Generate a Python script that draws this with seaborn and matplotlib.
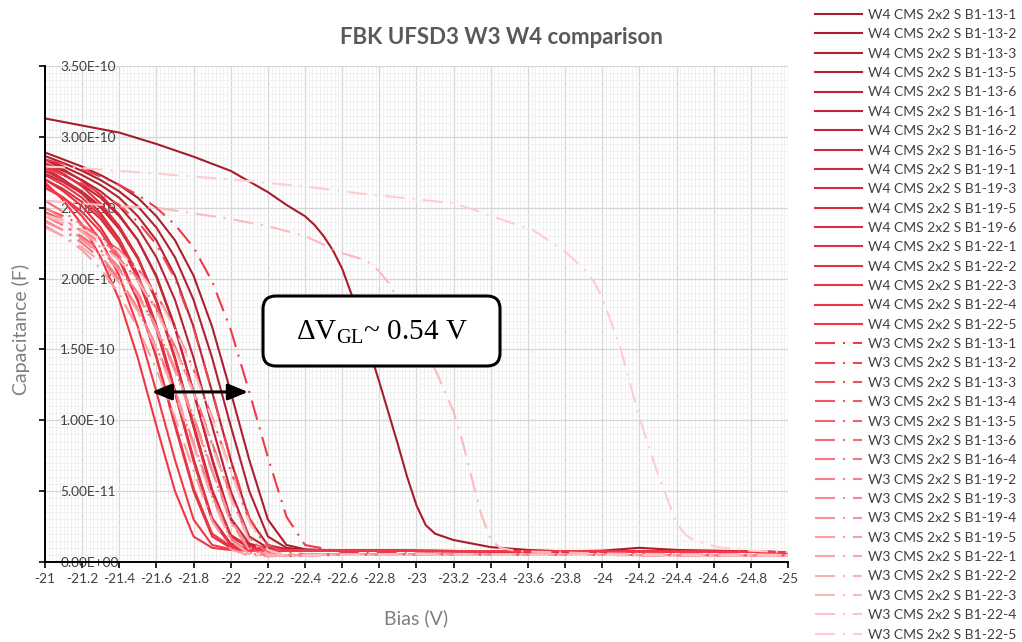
import numpy as np
import pandas as pd
import matplotlib
matplotlib.use("Agg")
import matplotlib.pyplot as plt
import seaborn as sns
from matplotlib.ticker import FixedLocator, AutoMinorLocator, FuncFormatter
from matplotlib.lines import Line2D
from matplotlib.patches import FancyBboxPatch

# ---------------- data (capacitance in units of 1e-10 F, bias in V) ----------------
CAP_UNIT = 1e-10

GRID_BIAS = [-21.0, -21.1, -21.2, -21.3, -21.4, -21.5, -21.6, -21.7, -21.8, -21.9,
             -22.0, -22.1, -22.2, -22.3, -22.4, -22.6, -23.0, -24.0, -25.0]

W4_DEVICES = ['B1-13-1', 'B1-13-2', 'B1-13-3', 'B1-13-5', 'B1-13-6', 'B1-16-1', 'B1-16-2',
              'B1-16-5', 'B1-19-1', 'B1-19-3', 'B1-19-5', 'B1-19-6', 'B1-22-1', 'B1-22-2',
              'B1-22-3', 'B1-22-4', 'B1-22-5']
W3_DEVICES = ['B1-13-1', 'B1-13-2', 'B1-13-3', 'B1-13-4', 'B1-13-5', 'B1-13-6', 'B1-16-4',
              'B1-19-2', 'B1-19-3', 'B1-19-4', 'B1-19-5', 'B1-22-1', 'B1-22-2', 'B1-22-3',
              'B1-22-4', 'B1-22-5']

# W4 outlier (own bias points)
W4_13_1_BIAS = [-21.0, -21.2, -21.4, -21.6, -21.8, -22.0, -22.2, -22.3, -22.4, -22.45, -22.5,
                -22.55, -22.6, -22.65, -22.7, -22.8, -22.9, -22.95, -23.0, -23.05, -23.1, -23.2,
                -23.4, -23.6, -23.8, -24.0, -24.2, -24.4, -24.6, -24.8, -25.0]
W4_13_1_CAP = [3.13, 3.08, 3.03, 2.95, 2.86, 2.76, 2.61, 2.52, 2.44, 2.38, 2.30,
               2.20, 2.07, 1.89, 1.69, 1.27, 0.83, 0.60, 0.40, 0.26, 0.20, 0.155,
               0.105, 0.085, 0.075, 0.08, 0.10, 0.085, 0.08, 0.075, 0.07]

# W4 curves on GRID_BIAS
W4_13_2 = [2.89, 2.84, 2.79, 2.73, 2.66, 2.57, 2.44, 2.27, 2.02, 1.66, 1.20, 0.72, 0.30, 0.12, 0.09, 0.08, 0.078, 0.075, 0.07]
W4_13_3 = [2.865, 2.815, 2.76, 2.695, 2.615, 2.51, 2.36, 2.15, 1.85, 1.44, 0.96, 0.50, 0.18, 0.10, 0.085, 0.08, 0.078, 0.075, 0.07]
W4_13_5 = [2.84, 2.79, 2.73, 2.66, 2.57, 2.44, 2.27, 2.02, 1.66, 1.20, 0.72, 0.30, 0.12, 0.09, 0.08, 0.08, 0.078, 0.075, 0.07]
W4_13_6 = [2.815, 2.76, 2.695, 2.615, 2.51, 2.36, 2.15, 1.85, 1.44, 0.96, 0.50, 0.18, 0.10, 0.085, 0.08, 0.08, 0.078, 0.075, 0.07]
W4_16_1 = [2.79, 2.73, 2.66, 2.57, 2.44, 2.27, 2.02, 1.66, 1.20, 0.72, 0.30, 0.12, 0.09, 0.08, 0.08, 0.08, 0.078, 0.075, 0.07]
W4_16_2 = [2.84, 2.77, 2.69, 2.59, 2.45, 2.27, 2.01, 1.65, 1.20, 0.73, 0.31, 0.13, 0.095, 0.085, 0.08, 0.08, 0.078, 0.075, 0.07]
W4_16_5 = [2.74, 2.68, 2.60, 2.50, 2.35, 2.14, 1.84, 1.44, 0.97, 0.51, 0.19, 0.10, 0.085, 0.08, 0.08, 0.08, 0.078, 0.075, 0.07]
W4_19_1 = [2.76, 2.695, 2.615, 2.51, 2.36, 2.15, 1.85, 1.44, 0.96, 0.50, 0.18, 0.10, 0.085, 0.08, 0.08, 0.08, 0.078, 0.075, 0.07]
W4_19_3 = [2.78, 2.70, 2.60, 2.46, 2.28, 2.03, 1.67, 1.21, 0.73, 0.31, 0.13, 0.095, 0.085, 0.08, 0.08, 0.08, 0.078, 0.075, 0.07]
W4_19_5 = [2.70, 2.63, 2.54, 2.42, 2.25, 2.00, 1.64, 1.19, 0.71, 0.29, 0.12, 0.09, 0.08, 0.08, 0.08, 0.08, 0.078, 0.075, 0.07]
W4_19_6 = [2.81, 2.74, 2.65, 2.53, 2.37, 2.15, 1.84, 1.43, 0.95, 0.49, 0.19, 0.11, 0.09, 0.085, 0.08, 0.08, 0.078, 0.075, 0.07]
W4_22_1 = [2.70, 2.615, 2.51, 2.36, 2.15, 1.85, 1.44, 0.96, 0.50, 0.18, 0.10, 0.085, 0.08, 0.08, 0.08, 0.08, 0.078, 0.075, 0.07]
W4_22_2 = [2.73, 2.66, 2.57, 2.44, 2.27, 2.02, 1.66, 1.20, 0.72, 0.30, 0.12, 0.09, 0.08, 0.08, 0.08, 0.08, 0.078, 0.075, 0.07]
W4_22_3 = [2.64, 2.57, 2.47, 2.33, 2.13, 1.84, 1.45, 0.98, 0.52, 0.20, 0.11, 0.09, 0.085, 0.08, 0.08, 0.08, 0.078, 0.075, 0.07]
W4_22_4 = [2.68, 2.55, 2.38, 2.15, 1.85, 1.44, 0.96, 0.50, 0.18, 0.10, 0.085, 0.08, 0.08, 0.08, 0.08, 0.08, 0.078, 0.075, 0.07]
W4_22_5 = [2.66, 2.57, 2.44, 2.27, 2.02, 1.66, 1.20, 0.72, 0.30, 0.12, 0.09, 0.08, 0.08, 0.08, 0.08, 0.08, 0.078, 0.075, 0.07]

# W3 curves on GRID_BIAS
W3_13_1 = [2.84, 2.81, 2.77, 2.72, 2.66, 2.59, 2.50, 2.38, 2.22, 1.98, 1.64, 1.20, 0.74, 0.32, 0.12, 0.07, 0.06, 0.055, 0.05]
W3_13_2 = [2.78, 2.73, 2.67, 2.60, 2.52, 2.40, 2.24, 2.00, 1.65, 1.20, 0.73, 0.31, 0.12, 0.07, 0.055, 0.055, 0.055, 0.05, 0.05]
W3_13_3 = [2.495, 2.44, 2.375, 2.295, 2.20, 2.07, 1.89, 1.65, 1.36, 1.02, 0.645, 0.29, 0.09, 0.045, 0.045, 0.05, 0.055, 0.05, 0.045]
W3_13_4 = [2.47, 2.41, 2.34, 2.25, 2.14, 1.99, 1.78, 1.51, 1.20, 0.83, 0.46, 0.16, 0.06, 0.04, 0.05, 0.055, 0.055, 0.05, 0.045]
W3_13_5 = [2.44, 2.375, 2.295, 2.20, 2.07, 1.89, 1.65, 1.36, 1.02, 0.645, 0.29, 0.09, 0.045, 0.045, 0.05, 0.055, 0.055, 0.05, 0.045]
W3_13_6 = [2.55, 2.47, 2.38, 2.28, 2.16, 2.00, 1.79, 1.52, 1.21, 0.84, 0.47, 0.17, 0.065, 0.045, 0.05, 0.055, 0.055, 0.05, 0.045]
W3_16_4 = [2.41, 2.34, 2.25, 2.14, 1.99, 1.78, 1.51, 1.20, 0.83, 0.46, 0.16, 0.06, 0.04, 0.05, 0.055, 0.055, 0.055, 0.05, 0.045]
W3_19_2 = [2.46, 2.38, 2.28, 2.16, 2.00, 1.79, 1.52, 1.21, 0.84, 0.47, 0.17, 0.065, 0.045, 0.05, 0.055, 0.055, 0.055, 0.05, 0.045]
W3_19_3 = [2.50, 2.42, 2.33, 2.22, 2.08, 1.90, 1.66, 1.37, 1.03, 0.65, 0.30, 0.10, 0.05, 0.045, 0.05, 0.055, 0.055, 0.05, 0.045]
W3_19_4 = [2.40, 2.34, 2.27, 2.18, 2.06, 1.88, 1.64, 1.35, 1.01, 0.64, 0.28, 0.085, 0.045, 0.045, 0.05, 0.055, 0.055, 0.05, 0.045]
W3_19_5 = [2.375, 2.295, 2.20, 2.07, 1.89, 1.65, 1.36, 1.02, 0.645, 0.29, 0.09, 0.045, 0.045, 0.05, 0.055, 0.055, 0.055, 0.05, 0.045]
W3_22_1 = [2.36, 2.30, 2.22, 2.12, 1.97, 1.77, 1.50, 1.19, 0.82, 0.45, 0.15, 0.055, 0.04, 0.045, 0.05, 0.055, 0.055, 0.05, 0.045]
W3_22_2 = [2.44, 2.39, 2.33, 2.24, 2.13, 1.98, 1.77, 1.50, 1.19, 0.82, 0.45, 0.15, 0.055, 0.04, 0.045, 0.05, 0.055, 0.05, 0.045]
W3_22_4 = [2.45, 2.41, 2.35, 2.28, 2.19, 2.06, 1.88, 1.64, 1.35, 1.01, 0.64, 0.28, 0.085, 0.045, 0.045, 0.05, 0.055, 0.05, 0.045]

# W3 outliers (own bias points)
W3_22_3_BIAS = [-21.0, -21.2, -21.4, -21.6, -21.8, -22.0, -22.2, -22.4, -22.6, -22.7, -22.75,
                -22.8, -22.85, -22.9, -23.0, -23.1, -23.2, -23.25, -23.3, -23.35, -23.4,
                -23.45, -23.55, -24.0, -24.5, -25.0]
W3_22_3_CAP = [2.55, 2.53, 2.51, 2.50, 2.46, 2.42, 2.37, 2.30, 2.18, 2.14, 2.11,
               2.05, 1.97, 1.85, 1.62, 1.36, 1.06, 0.84, 0.58, 0.33, 0.16,
               0.10, 0.075, 0.06, 0.055, 0.05]
W3_22_5_BIAS = [-21.0, -21.2, -21.4, -21.7, -22.0, -22.4, -22.7, -23.0, -23.2, -23.3, -23.45,
                -23.63, -23.8, -23.9, -23.95, -24.0, -24.1, -24.2, -24.3, -24.4, -24.45,
                -24.5, -24.62, -24.8, -25.0]
W3_22_5_CAP = [2.79, 2.78, 2.76, 2.73, 2.70, 2.65, 2.60, 2.56, 2.53, 2.49, 2.42,
               2.34, 2.19, 2.07, 1.99, 1.87, 1.50, 1.02, 0.62, 0.275, 0.19,
               0.15, 0.105, 0.08, 0.07]

W4_CURVES = [
    (W4_13_1_BIAS, W4_13_1_CAP), (GRID_BIAS, W4_13_2), (GRID_BIAS, W4_13_3), (GRID_BIAS, W4_13_5),
    (GRID_BIAS, W4_13_6), (GRID_BIAS, W4_16_1), (GRID_BIAS, W4_16_2), (GRID_BIAS, W4_16_5),
    (GRID_BIAS, W4_19_1), (GRID_BIAS, W4_19_3), (GRID_BIAS, W4_19_5), (GRID_BIAS, W4_19_6),
    (GRID_BIAS, W4_22_1), (GRID_BIAS, W4_22_2), (GRID_BIAS, W4_22_3), (GRID_BIAS, W4_22_4),
    (GRID_BIAS, W4_22_5)]
W3_CURVES = [
    (GRID_BIAS, W3_13_1), (GRID_BIAS, W3_13_2), (GRID_BIAS, W3_13_3), (GRID_BIAS, W3_13_4),
    (GRID_BIAS, W3_13_5), (GRID_BIAS, W3_13_6), (GRID_BIAS, W3_16_4), (GRID_BIAS, W3_19_2),
    (GRID_BIAS, W3_19_3), (GRID_BIAS, W3_19_4), (GRID_BIAS, W3_19_5), (GRID_BIAS, W3_22_1),
    (GRID_BIAS, W3_22_2), (W3_22_3_BIAS, W3_22_3_CAP), (GRID_BIAS, W3_22_4),
    (W3_22_5_BIAS, W3_22_5_CAP)]

X_TICKS = [-21.0, -21.2, -21.4, -21.6, -21.8, -22.0, -22.2, -22.4, -22.6, -22.8, -23.0,
           -23.2, -23.4, -23.6, -23.8, -24.0, -24.2, -24.4, -24.6, -24.8, -25.0]
Y_TICKS = [0.0, 0.5, 1.0, 1.5, 2.0, 2.5, 3.0, 3.5]

TITLE = "FBK UFSD3 W3 W4 comparison"
ANNOT = r"$\Delta\mathrm{V}_{\mathrm{GL}}$~ 0.54 V"
ARROW_LEFT, ARROW_RIGHT, ARROW_CAP = -21.575, -22.093, 1.2

# ---------------- build long table ----------------
rows = []
labels = []
for wafer, devs, curves in (("W4", W4_DEVICES, W4_CURVES), ("W3", W3_DEVICES, W3_CURVES)):
    for dev, (b, c) in zip(devs, curves):
        lab = f"{wafer} CMS 2x2 S {dev}"
        labels.append(lab)
        for bi, ci in zip(b, c):
            rows.append({"label": lab, "wafer": wafer, "bias": bi, "cap": ci * CAP_UNIT})
df = pd.DataFrame(rows)

w4_cols = sns.blend_palette(["#a61d2b", "#f43848"], len(W4_DEVICES))
w3_cols = sns.blend_palette(["#f03a4a", "#ffcdd0"], len(W3_DEVICES))
colors = list(w4_cols) + list(w3_cols)
palette = dict(zip(labels, colors))
DASH = (9.6, 3.8, 1.0, 3.8)

plt.rcParams['font.family'] = ['Lato', 'DejaVu Sans']
plt.rcParams['mathtext.fontset'] = 'custom'
plt.rcParams['mathtext.rm'] = 'Liberation Serif'
plt.rcParams['mathtext.it'] = 'Liberation Serif:italic'
plt.rcParams['mathtext.bf'] = 'Liberation Serif:bold'

fig = plt.figure(figsize=(10.22, 6.42), dpi=100)
ax = fig.add_axes([0.044, 0.1246, 0.727, 0.7726])

sns.lineplot(data=df, x="bias", y="cap", hue="label", hue_order=labels, palette=palette,
             style="wafer", style_order=["W4", "W3"], dashes={"W4": "", "W3": DASH},
             estimator=None, sort=False, linewidth=1.5, legend=False, ax=ax)

ax.set_xlim(-21, -25)
ax.set_ylim(0, 3.5e-10)
ax.xaxis.set_major_locator(FixedLocator(X_TICKS))
ax.xaxis.set_minor_locator(AutoMinorLocator(10))
ax.yaxis.set_major_locator(FixedLocator([v * CAP_UNIT for v in Y_TICKS]))
ax.yaxis.set_minor_locator(AutoMinorLocator(10))
ax.xaxis.set_major_formatter(FuncFormatter(lambda v, p: f"{round(v, 1):g}"))
ax.yaxis.set_major_formatter(FuncFormatter(lambda v, p: f"{v:.2E}"))

ax.set_axisbelow(True)
ax.grid(which="major", color="#d6d6d6", lw=0.9)
ax.grid(which="minor", color="#efefef", lw=0.6)
for s in ("top", "right"):
    ax.spines[s].set_visible(False)
for s in ("left", "bottom"):
    ax.spines[s].set_color("black")
    ax.spines[s].set_linewidth(1.4)
ax.set_facecolor("white")

ax.tick_params(which="major", direction="out", length=4, width=1.2, color="black",
               labelcolor="#404040", labelsize=9.8, bottom=True, left=True)
ax.tick_params(which="minor", length=0)
ax.tick_params(axis="x", pad=4)
ax.tick_params(axis="y", pad=-15)
for t in ax.get_yticklabels():
    t.set_horizontalalignment("left")

ax.set_xlabel("Bias (V)", fontsize=14, color="#7f7f7f")
ax.set_ylabel("Capacitance (F)", fontsize=14, color="#7f7f7f")
ax.xaxis.set_label_coords(0.5, -0.095)
ax.yaxis.set_label_coords(-0.02, 0.468)

fig.text(0.491, 0.941, TITLE, ha="center", va="center", fontsize=16,
         fontweight="bold", color="#595959")

# arrow
ax.annotate("", xy=(ARROW_RIGHT, ARROW_CAP * CAP_UNIT), xytext=(ARROW_LEFT, ARROW_CAP * CAP_UNIT),
            arrowprops=dict(arrowstyle="<|-|>,head_length=0.8,head_width=0.33", color="black",
                            lw=2.2, shrinkA=0, shrinkB=0, mutation_scale=15), zorder=9)

# annotation box
box = FancyBboxPatch((2.63, 2.76), 2.37, 0.70, boxstyle="round,pad=0,rounding_size=0.13",
                     transform=fig.dpi_scale_trans, fc="white", ec="black", lw=2.2,
                     zorder=10, clip_on=False)
ax.add_patch(box)
ax.text(3.815, 3.10, ANNOT, transform=fig.dpi_scale_trans, ha="center", va="center",
        fontsize=21, family="Liberation Serif", color="black", zorder=11)

# legend
handles = []
for lab in labels:
    ls = "-" if lab.startswith("W4") else (0, DASH)
    handles.append(Line2D([0], [0], color=palette[lab], lw=1.5, linestyle=ls))
fig.legend(handles, labels, loc="upper left", bbox_to_anchor=(815 / 1022, 1 - 9 / 642),
           frameon=False, fontsize=10, handlelength=3.4, handletextpad=0.4,
           labelspacing=0.53, borderpad=0, borderaxespad=0, labelcolor="#404040")

fig.savefig("out.png", dpi=100)
